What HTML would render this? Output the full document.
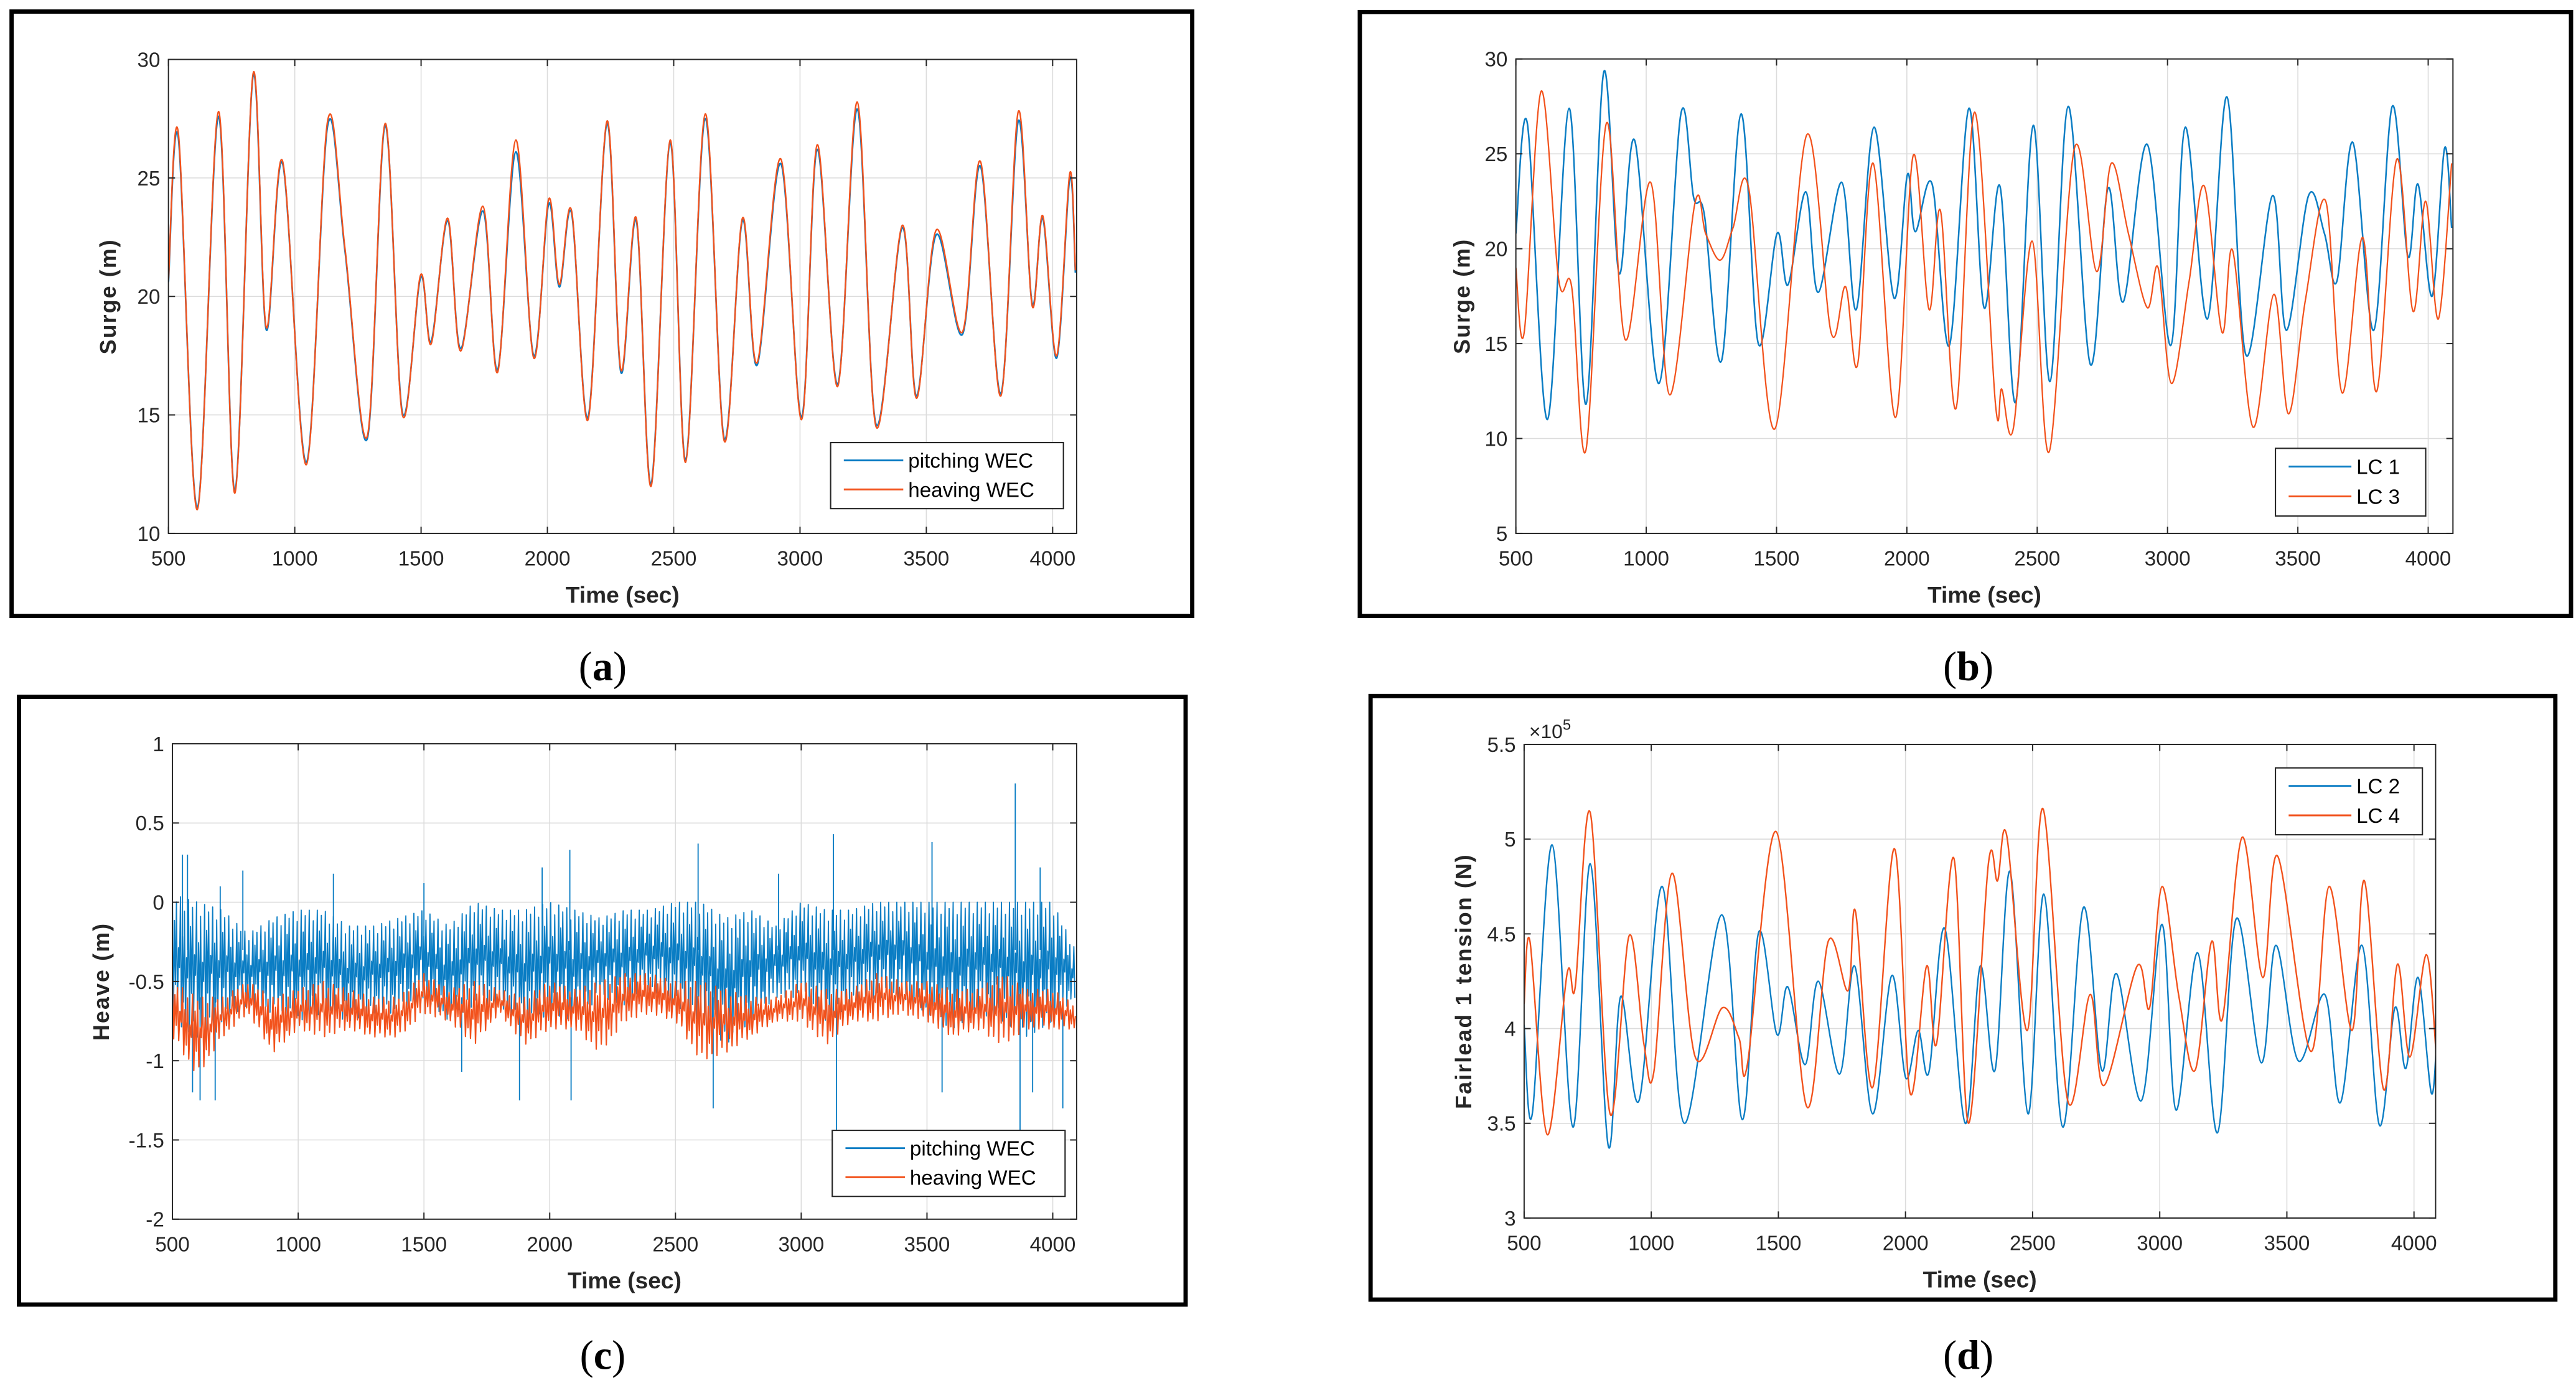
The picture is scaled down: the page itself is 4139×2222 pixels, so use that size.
<!DOCTYPE html>
<html><head><meta charset="utf-8"><style>
html,body{margin:0;padding:0;background:#fff;}
svg{display:block;}
</style></head><body>
<svg id="fig" xmlns="http://www.w3.org/2000/svg" width="4139" height="2222" viewBox="0 0 1560 837.5">
<rect x="0" y="0" width="1560" height="837.5" fill="#fff"/>
</svg>
<script>
// ---------- Panel (a) data: surge, pitching vs heaving WEC ----------
const aT = [500,539,614,698,763,835,887,952,1046,1130,1199,1287,1358,1426,1498,1540,1605,1657,1745,1803,1875,1946,2005,2047,2096,2161,2236,2291,2352,2411,2486,2547,2625,2700,2772,2830,2924,3006,3068,3149,3227,3301,3405,3461,3539,3643,3714,3795,3864,3919,3961,4016,4068,4090];
const aHeave = [20.7,26.9,11.0,27.8,11.7,29.4,18.7,25.7,12.9,27.4,22.0,14.1,27.3,15.0,20.9,18.0,23.3,17.7,23.8,16.8,26.6,17.4,24.1,20.5,23.6,14.8,27.4,16.9,23.3,12.0,26.6,13.0,27.7,13.9,23.3,17.2,25.8,14.8,26.4,16.2,28.2,14.5,23.0,15.7,22.8,18.5,25.7,15.8,27.8,19.6,23.4,17.5,25.2,21.1];
const aPitch = [20.6,26.7,11.1,27.6,11.8,29.3,18.6,25.6,13.0,27.2,21.9,14.0,27.2,15.1,20.8,18.1,23.2,17.8,23.6,16.9,26.1,17.5,23.9,20.4,23.5,14.9,27.3,16.8,23.2,12.1,26.5,13.1,27.5,14.0,23.2,17.1,25.6,14.9,26.2,16.3,27.9,14.6,22.9,15.8,22.6,18.4,25.5,15.9,27.4,19.7,23.3,17.4,25.0,21.0];

// ---------- Panel (b) data: surge, LC1 vs LC3 ----------
const bT1 = [500,544,621,704,769,837,896,956,1049,1133,1182,1223,1289,1364,1430,1502,1544,1612,1660,1750,1806,1874,1951,2002,2032,2097,2163,2238,2296,2357,2417,2485,2549,2619,2704,2772,2830,2922,3012,3068,3153,3228,3301,3403,3456,3541,3602,3650,3711,3791,3862,3922,3961,4015,4063,4090];
const bLC1 = [20.8,26.6,11.0,27.4,11.8,29.3,18.7,25.7,12.9,27.1,22.7,21.8,14.1,27.1,15.0,20.8,18.1,23.0,17.7,23.5,16.8,26.4,17.4,23.9,20.9,23.4,14.9,27.4,16.9,23.3,11.9,26.5,13.0,27.5,13.9,23.2,17.2,25.5,14.9,26.4,16.3,28.0,14.4,22.8,15.7,22.8,20.8,18.3,25.6,15.7,27.5,19.6,23.4,17.5,25.3,21.1];
const bT3 = [500,532,597,665,714,769,847,920,1017,1090,1187,1228,1284,1333,1393,1493,1616,1709,1765,1811,1871,1956,2024,2085,2129,2189,2260,2340,2364,2408,2481,2546,2643,2728,2784,2850,2922,2964,3015,3083,3141,3209,3250,3328,3408,3464,3529,3607,3670,3748,3803,3879,3942,3990,4039,4090];
const bLC3 = [19.0,15.6,28.3,18.3,18.0,9.4,26.6,15.2,23.5,12.3,22.4,20.8,19.4,21.1,23.2,10.5,26.0,15.6,18.0,13.9,24.5,11.1,24.9,16.8,22.0,11.6,27.2,11.8,12.6,10.5,20.4,9.3,25.3,18.8,24.5,20.8,16.9,19.0,12.9,18.3,23.3,15.6,19.9,10.6,17.6,11.3,17.3,22.5,12.4,20.6,12.5,24.7,16.7,22.5,16.3,24.5];

// ---------- Panel (c) data: heave envelopes every 100 s ----------
const cT = [500,600,700,800,900,1000,1100,1200,1300,1400,1500,1600,1700,1800,1900,2000,2100,2200,2300,2400,2500,2600,2700,2800,2900,3000,3100,3200,3300,3400,3500,3600,3700,3800,3900,4000,4090];
const cPitchHi = [0.05,0.0,-0.05,-0.2,-0.1,-0.05,-0.05,-0.15,-0.15,-0.1,-0.05,-0.15,0.0,-0.05,-0.05,0.0,-0.05,-0.1,-0.05,-0.05,0.0,0.0,-0.1,-0.05,-0.15,0.0,-0.05,-0.05,0.0,0.0,0.0,0.0,0.0,0.0,0.0,0.0,-0.3];
const cPitchLo = [-0.75,-0.85,-0.75,-0.65,-0.7,-0.75,-0.7,-0.75,-0.7,-0.7,-0.6,-0.75,-0.65,-0.65,-0.8,-0.7,-0.75,-0.6,-0.65,-0.55,-0.65,-0.75,-0.9,-0.75,-0.6,-0.6,-0.75,-0.65,-0.6,-0.6,-0.7,-0.8,-0.7,-0.75,-0.85,-0.75,-0.6];
const cHeaveHi = [-0.5,-0.6,-0.6,-0.5,-0.6,-0.55,-0.5,-0.55,-0.6,-0.6,-0.45,-0.55,-0.5,-0.55,-0.6,-0.5,-0.55,-0.5,-0.45,-0.45,-0.5,-0.5,-0.55,-0.6,-0.6,-0.5,-0.55,-0.55,-0.45,-0.5,-0.5,-0.55,-0.55,-0.45,-0.55,-0.55,-0.65];
const cHeaveLo = [-0.85,-1.1,-0.85,-0.7,-0.95,-0.8,-0.85,-0.8,-0.85,-0.85,-0.7,-0.75,-0.9,-0.7,-0.9,-0.8,-0.8,-0.95,-0.75,-0.7,-0.75,-1.0,-0.95,-0.85,-0.75,-0.75,-0.9,-0.75,-0.75,-0.7,-0.75,-0.85,-0.8,-0.9,-0.8,-0.8,-0.8];
const cSpikeT = [540,560,580,610,670,690,780,1140,1500,1650,1880,1970,2080,2085,2590,2650,2910,3128,3140,3520,3560,3851,3870,3920,3950,4040];
const cSpikeV = [0.3,0.3,-1.2,-1.25,-1.25,0.1,0.2,0.18,0.12,-1.07,-1.25,0.22,0.33,-1.25,0.37,-1.3,0.18,0.43,-1.45,0.38,-1.2,0.75,-1.45,-1.2,0.22,-1.3];

// ---------- Panel (d) data: fairlead 1 tension (x1e5 N) ----------
const dT2 = [500,532,610,692,760,831,880,952,1043,1130,1277,1358,1423,1494,1537,1605,1657,1741,1800,1871,1946,2001,2050,2092,2154,2235,2294,2352,2411,2482,2544,2619,2700,2772,2830,2928,3009,3064,3149,3227,3301,3399,3457,3545,3649,3711,3795,3864,3925,3968,4016,4068,4090];
const dLC2 = [4.02,3.55,4.97,3.48,4.87,3.38,4.17,3.62,4.75,3.50,4.60,3.52,4.51,3.97,4.22,3.81,4.25,3.76,4.33,3.55,4.28,3.74,3.99,3.77,4.53,3.50,4.33,3.78,4.83,3.55,4.71,3.48,4.64,3.78,4.29,3.62,4.55,3.57,4.40,3.45,4.58,3.82,4.44,3.83,4.18,3.61,4.44,3.49,4.11,3.79,4.27,3.66,3.97];
const dT4 = [500,523,591,669,701,760,838,913,971,1010,1082,1173,1280,1345,1378,1491,1611,1696,1774,1803,1871,1956,2018,2083,2122,2190,2248,2326,2362,2398,2479,2541,2638,2726,2781,2911,2960,3009,3074,3139,3204,3246,3324,3405,3464,3594,3666,3756,3805,3880,3935,3984,4049,4090];
const dLC4 = [4.13,4.46,3.44,4.29,4.22,5.14,3.55,4.49,3.92,3.77,4.82,3.85,4.11,3.95,3.81,5.04,3.59,4.46,4.20,4.62,3.69,4.95,3.66,4.33,3.92,4.90,3.50,4.87,4.78,5.02,3.99,5.16,3.62,4.18,3.70,4.33,4.11,4.75,4.18,3.78,4.46,4.05,5.01,4.27,4.91,3.88,4.75,3.99,4.78,3.68,4.34,3.85,4.39,3.81];

const xTicks = [500,1000,1500,2000,2500,3000,3500,4000];
const aYTicks = [10,15,20,25,30];
const bYTicks = [5,10,15,20,25,30];
const cYTicks = [-2,-1.5,-1,-0.5,0,0.5,1];
const dYTicks = [3,3.5,4,4.5,5,5.5];

const BLUE = '#0a7dc4', ORANGE = '#f2521c';
const NS = 'http://www.w3.org/2000/svg';
const svg = document.getElementById('fig');
function mk(tag, attrs, parent){ const e=document.createElementNS(NS,tag); for(const k in attrs) e.setAttribute(k,attrs[k]); (parent||svg).appendChild(e); return e; }

function smoothPath(xs, ys){
  let d='M'+xs[0].toFixed(2)+','+ys[0].toFixed(2);
  for(let i=0;i<xs.length-1;i++){
    const x0=xs[Math.max(0,i-1)], y0=ys[Math.max(0,i-1)];
    const x1=xs[i], y1=ys[i], x2=xs[i+1], y2=ys[i+1];
    const x3=xs[Math.min(xs.length-1,i+2)], y3=ys[Math.min(xs.length-1,i+2)];
    const c1x=x1+(x2-x0)/6, c1y=y1+(y2-y0)/6, c2x=x2-(x3-x1)/6, c2y=y2-(y3-y1)/6;
    d+=' C'+c1x.toFixed(2)+','+c1y.toFixed(2)+' '+c2x.toFixed(2)+','+c2y.toFixed(2)+' '+x2.toFixed(2)+','+y2.toFixed(2);
  }
  return d;
}

function panel(p){
  const g = mk('g',{});
  
  
  const fr = mk('rect',{x:p.frame[0],y:p.frame[1],width:p.frame[2]-p.frame[0],height:p.frame[3]-p.frame[1],fill:'none',stroke:'#000','stroke-width':2.6},g);
  
  
  const L=p.plot[0],T=p.plot[1],R=p.plot[2],B=p.plot[3];
  const sx = t => L + (t-500)/(p.xmax-500)*(R-L);
  const sy = v => B - (v-p.ymin)/(p.ymax-p.ymin)*(B-T);
  const grid = mk('g',{stroke:'#dcdcdc','stroke-width':0.6},g);
  
  
  xTicks.forEach(t=>mk('line',{x1:sx(t),x2:sx(t),y1:T,y2:B},grid));
  p.yticks.forEach(v=>mk('line',{x1:L,x2:R,y1:sy(v),y2:sy(v)},grid));
  const clipId='clip'+p.id;
  const cp=mk('clipPath',{id:clipId},g); mk('rect',{x:L,y:T,width:R-L,height:B-T},cp);
  const series = mk('g',{'clip-path':'url(#'+clipId+')'},g);
  
  
  p.draw(series, sx, sy);
  // axes box and ticks
  const ax = mk('g',{stroke:'#262626','stroke-width':0.75,fill:'none'},g);
  
  
  mk('rect',{x:L,y:T,width:R-L,height:B-T},ax);
  xTicks.forEach(t=>{ mk('line',{x1:sx(t),x2:sx(t),y1:B,y2:B-4},ax); mk('line',{x1:sx(t),x2:sx(t),y1:T,y2:T+4},ax); });
  p.yticks.forEach(v=>{ mk('line',{x1:L,x2:L+4,y1:sy(v),y2:sy(v)},ax); mk('line',{x1:R,x2:R-4,y1:sy(v),y2:sy(v)},ax); });
  const tl = mk('g',{'font-family':'"Liberation Sans", Arial, sans-serif','font-size':12.5,fill:'#262626'},g);
  
  
  xTicks.forEach(t=>{ const e=mk('text',{x:sx(t),y:B+19.5,'text-anchor':'middle'},tl); e.textContent=String(t);   });
  p.yticks.forEach(v=>{ const e=mk('text',{x:L-5,y:sy(v)+4.5,'text-anchor':'end'},tl); e.textContent=String(v).replace('-0.','-0.');   });
  const xl = mk('text',{x:(L+R)/2,y:B+42,'text-anchor':'middle','font-family':'"Liberation Sans", Arial, sans-serif','font-size':14,'font-weight':'bold',fill:'#262626'},g);
  xl.textContent='Time (sec)';
  
  
  const yx=p.ylabX, yy=(T+B)/2;
  const yl = mk('text',{x:yx,y:yy,transform:'rotate(-90 '+yx+' '+yy+')','text-anchor':'middle','font-family':'"Liberation Sans", Arial, sans-serif','font-size':13.5,'font-weight':'bold','letter-spacing':0.8,fill:'#262626'},g);
  yl.textContent=p.ylabel;
  
  
  // legend
  const lg = mk('g',{},g);
  
  
  const lb=p.legend;
  mk('rect',{x:lb[0],y:lb[1],width:lb[2]-lb[0],height:lb[3]-lb[1],fill:'#fff',stroke:'#262626','stroke-width':0.8},lg);
  const rows=[lb[1]+(lb[3]-lb[1])*0.27, lb[1]+(lb[3]-lb[1])*0.71];
  p.names.forEach((nm,i)=>{
    const ent = mk('g',{},lg);
    
    
    mk('line',{x1:lb[0]+8,x2:lb[0]+8+p.legLine,y1:rows[i],y2:rows[i],stroke:i?ORANGE:BLUE,'stroke-width':1.1},ent);
    const tx=mk('text',{x:lb[0]+11+p.legLine,y:rows[i]+4.5,'font-family':'"Liberation Sans", Arial, sans-serif','font-size':12.5,fill:'#000'},ent);
    tx.textContent=nm;
  });
  // caption
  const cap = mk('text',{x:p.cap[0],y:p.cap[1],'text-anchor':'middle','font-family':'"Liberation Serif", serif','font-size':25,fill:'#000'},svg);
  
  
  const s1=mk('tspan',{},cap); s1.textContent='(';
  const s2=mk('tspan',{'font-weight':'bold'},cap); s2.textContent=p.id;
  const s3=mk('tspan',{},cap); s3.textContent=')';
  return {sx,sy,g};
}

function curve(parent, ts, vs, sx, sy, color, name, w){
  const path = mk('path',{d:smoothPath(ts.map(sx), vs.map(sy)),fill:'none',stroke:color,'stroke-width':w||0.9,'stroke-linejoin':'round'},parent);
  
  
}

function lerpArr(ts, vs, t){
  if(t<=ts[0]) return vs[0];
  for(let i=0;i<ts.length-1;i++){ if(t<=ts[i+1]){ const f=(t-ts[i])/(ts[i+1]-ts[i]); return vs[i]+(vs[i+1]-vs[i])*f; } }
  return vs[vs.length-1];
}
const jitter=[1,0.05,0.8,0.25,0.95,0,0.6,0.15,1,0.35,0.7,0.1,0.9,0.3,0.55,0];
function noisy(parent, hi, lo, sx, sy, color, name, w, step){
  let d='';
  let k=0;
  for(let t=500;t<=4090;t+=step){
    const h=lerpArr(cT,hi,t), l=lerpArr(cT,lo,t);
    const f = (k%2===0) ? jitter[k%16] : 1-jitter[(k+7)%16];
    const v = l + (h-l)*f;
    d += (k?' L':'M')+sx(t).toFixed(2)+','+sy(v).toFixed(2);
    k++;
  }
  const path = mk('path',{d:d,fill:'none',stroke:color,'stroke-width':w,'stroke-linejoin':'round'},parent);
  
  
}

panel({id:'a',name:'panel-a-surge',frame:[7,7,722,373],plot:[102,36,652,323],xmax:4095,ymin:10,ymax:30,yticks:aYTicks,ylabel:'Surge (m)',ylabX:70,
  legend:[503,268,644,308],names:['pitching WEC','heaving WEC'],legLine:36,cap:[365,412],
  draw:(s,sx,sy)=>{ curve(s,aT,aPitch,sx,sy,BLUE,'pitching-wec-line',1.0); curve(s,aT,aHeave,sx,sy,ORANGE,'heaving-wec-line',0.9); }});

panel({id:'b',name:'panel-b-surge',frame:[823.5,7.3,1557,373],plot:[918,35.7,1485.5,323],xmax:4095,ymin:5,ymax:30,yticks:bYTicks,ylabel:'Surge (m)',ylabX:890,
  legend:[1378,271.5,1469,312.5],names:['LC 1','LC 3'],legLine:38,cap:[1192,412],
  draw:(s,sx,sy)=>{ curve(s,bT1,bLC1,sx,sy,BLUE,'lc1-line',0.95); curve(s,bT3,bLC3,sx,sy,ORANGE,'lc3-line',0.85); }});

const pc = panel({id:'c',name:'panel-c-heave',frame:[11.5,422,718,790],plot:[104.4,450.4,652,738.3],xmax:4095,ymin:-2,ymax:1,yticks:cYTicks,ylabel:'Heave (m)',ylabX:66,
  legend:[504,684.5,645,724.5],names:['pitching WEC','heaving WEC'],legLine:36,cap:[365,829],
  draw:(s,sx,sy)=>{
    noisy(s,cPitchHi,cPitchLo,sx,sy,BLUE,'pitching-wec-line',0.7,4);
    const sp = mk('g',{stroke:BLUE,'stroke-width':0.7},s);
    
    
    cSpikeT.forEach((t,i)=>{ const base=cSpikeV[i]>0?-0.3:-0.6; mk('line',{x1:sx(t),x2:sx(t),y1:sy(base),y2:sy(cSpikeV[i])},sp); });
    noisy(s,cHeaveHi,cHeaveLo,sx,sy,ORANGE,'heaving-wec-line',0.8,5);
  }});

const pd = panel({id:'d',name:'panel-d-tension',frame:[830,421.5,1547.5,787],plot:[923,450.8,1475,737.6],xmax:4085,ymin:3,ymax:5.5,yticks:dYTicks,ylabel:'Fairlead 1 tension (N)',ylabX:891,
  legend:[1378,465,1467,505.5],names:['LC 2','LC 4'],legLine:38,cap:[1192,829],
  draw:(s,sx,sy)=>{ curve(s,dT2,dLC2,sx,sy,BLUE,'lc2-line',0.9); curve(s,dT4,dLC4,sx,sy,ORANGE,'lc4-line',0.9); }});
const ex = mk('text',{x:926,y:447,'font-family':'"Liberation Sans", Arial, sans-serif','font-size':12,fill:'#262626'});


const e1=mk('tspan',{},ex); e1.textContent='\u00d710';
const e2=mk('tspan',{dy:-5,'font-size':9},ex); e2.textContent='5';
</script>
</body></html>
